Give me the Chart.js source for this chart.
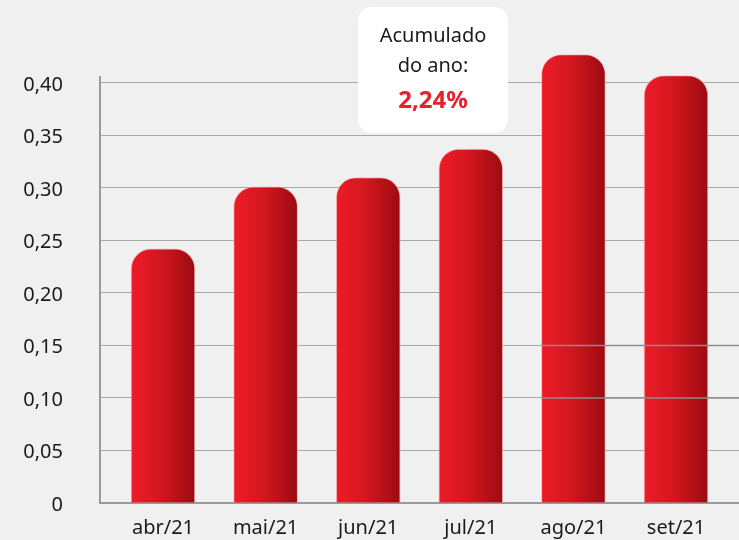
<!DOCTYPE html>
<html>
<head>
<meta charset="utf-8">
<script src="https://cdn.jsdelivr.net/npm/chart.js@4.4.0/dist/chart.umd.min.js"></script>
<style>
  html, body { margin: 0; padding: 0; background: #f0f0f0; }
  #wrap { width: 739px; height: 540px; position: relative; }
</style>
</head>
<body>
<div id="wrap"><canvas id="myChart"></canvas></div>
<script>
// data
var months = ['abr/21', 'mai/21', 'jun/21', 'jul/21', 'ago/21', 'set/21'];
var values = [0.242, 0.301, 0.310, 0.337, 0.427, 0.407];
var yTicks = [0, 0.05, 0.10, 0.15, 0.20, 0.25, 0.30, 0.35, 0.40];
var boxLines = ['Acumulado', 'do ano:'];
var boxTotal = '2,24%';
var overlayLines = [0.10, 0.15];   // lines that show on top of the last two bars

const FONT = '"Noto Sans", sans-serif';
const BAR_W = 64;
const GRID = '#a8a8a8';

function barGradient(context) {
  const chart = context.chart;
  if (!chart.chartArea || context.dataIndex === undefined) return '#d0161e';
  const x = chart.scales.x.getPixelForValue(context.dataIndex);
  const g = chart.ctx.createLinearGradient(x - BAR_W / 2, 0, x + BAR_W / 2, 0);
  g.addColorStop(0, '#ec1c27');
  g.addColorStop(0.45, '#d4171f');
  g.addColorStop(1, '#9c0b11');
  return g;
}

// white box with the accumulated value + grid lines drawn over the last bars
const extras = {
  id: 'extras',
  afterDatasetsDraw(chart) {
    const ctx = chart.ctx;
    const xs = chart.scales.x, ys = chart.scales.y;

    ctx.save();
    ctx.strokeStyle = '#8c8c8c';
    ctx.lineWidth = 1.5;
    overlayLines.forEach(v => {
      const y = ys.getPixelForValue(v);
      ctx.beginPath();
      ctx.moveTo(xs.getPixelForValue(4) - BAR_W / 2, y);
      ctx.lineTo(chart.chartArea.right, y);
      ctx.stroke();
    });

    // annotation box
    const bx = 358, by = 7, bw = 150, bh = 126, r = 14;
    ctx.fillStyle = '#ffffff';
    ctx.beginPath();
    ctx.roundRect(bx, by, bw, bh, r);
    ctx.fill();

    const cx = bx + bw / 2;
    ctx.textAlign = 'center';
    ctx.textBaseline = 'middle';
    ctx.fillStyle = '#1a1a1a';
    ctx.font = '20px ' + FONT;
    ctx.fillText(boxLines[0], cx, 36);
    ctx.fillText(boxLines[1], cx, 66);
    ctx.fillStyle = '#e8202a';
    ctx.font = 'bold 24px ' + FONT;
    ctx.fillText(boxTotal, cx, 101);
    ctx.restore();
  }
};

const config = {
  type: 'bar',
  data: {
    datasets: [{
      data: values.map((v, i) => ({ x: i, y: v })),
      backgroundColor: barGradient,
      borderColor: 'rgba(245, 170, 170, 0.7)',
      borderWidth: 1,
      borderSkipped: 'start',
      borderRadius: { topLeft: 20, topRight: 20, bottomLeft: 0, bottomRight: 0 },
      barThickness: BAR_W,
      clip: false
    }]
  },
  options: {
    responsive: true,
    maintainAspectRatio: false,
    animation: false,
    layout: { padding: { top: 77, right: 0, left: 0, bottom: 0 } },
    plugins: {
      legend: { display: false },
      tooltip: { enabled: false }
    },
    scales: {
      x: {
        type: 'linear',
        offset: false,
        min: -0.614,
        max: 5.614,
        afterBuildTicks: (scale) => { scale.ticks = months.map((m, i) => ({ value: i })); },
        afterFit: (scale) => { scale.height = 37; scale.paddingLeft = 0; scale.paddingRight = 0; },
        grid: { display: false, drawTicks: false },
        border: { display: true, color: '#9a9a9c', width: 2 },
        ticks: {
          padding: 13,
          color: '#1a1a1a',
          font: { family: FONT, size: 20 },
          maxRotation: 0,
          autoSkip: false,
          callback: (v) => months[v]
        }
      },
      y: {
        min: 0,
        max: 0.4057,
        afterBuildTicks: (scale) => { scale.ticks = yTicks.map(v => ({ value: v })); },
        afterFit: (scale) => { scale.width = 100; scale.paddingTop = 0; scale.paddingBottom = 0; },
        grid: { color: GRID, lineWidth: 1, drawTicks: false },
        border: { display: true, color: '#9a9a9c', width: 2 },
        ticks: {
          padding: 37,
          labelOffset: 2,
          color: '#1a1a1a',
          font: { family: FONT, size: 20 },
          callback: (v) => v === 0 ? '0' : v.toFixed(2).replace('.', ',')
        }
      }
    }
  },
  plugins: [extras]
};

var ctx = document.getElementById('myChart').getContext('2d');
var myChart = new Chart(ctx, config);
</script>
</body>
</html>
